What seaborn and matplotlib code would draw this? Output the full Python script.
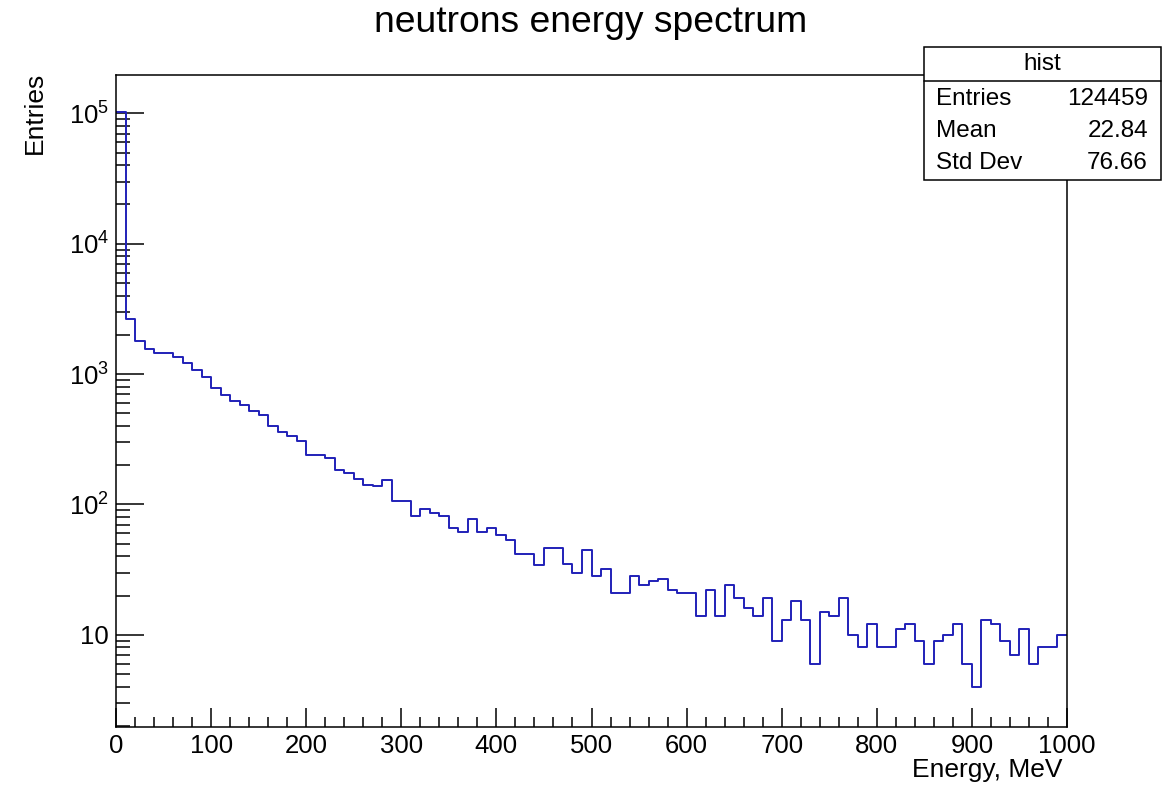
import numpy as np
import pandas as pd
import matplotlib
matplotlib.use("Agg")
import matplotlib.pyplot as plt
import seaborn as sns
from matplotlib.ticker import FixedLocator, FixedFormatter, MultipleLocator, LogLocator, NullFormatter
from matplotlib.patches import Rectangle

# histogram data: 100 bins of 10 MeV, counts
bin_edges = np.arange(0, 1001, 10)
counts = [
    102200, 2635, 1805, 1567, 1459, 1459, 1346, 1222, 1074, 950,
    775, 695, 625, 576, 523, 483, 400, 359, 335, 308,
    238, 238, 227, 184, 173, 157, 142, 138, 154, 106,
    106, 81, 92, 86, 81, 66, 61, 77, 61, 66,
    58, 53, 42, 42, 34, 46, 46, 35, 30, 45,
    28, 32, 21, 21, 28, 24, 26, 27, 22, 21,
    21, 14, 22, 14, 24, 19, 16, 14, 19, 9,
    13, 18, 13, 6, 15, 14, 19, 10, 8, 12,
    8, 8, 11, 12, 9, 6, 9, 10, 12, 6,
    4, 13, 12, 9, 7, 11, 6, 8, 8, 10,
]
bin_centers = bin_edges[:-1] + 5

x_ticks = [0, 100, 200, 300, 400, 500, 600, 700, 800, 900, 1000]
y_ticks = [10, 100, 1000, 10000, 100000]
y_tick_labels = ["10", "$10^{2}$", "$10^{3}$", "$10^{4}$", "$10^{5}$"]

stats_names = ["Entries", "Mean", "Std Dev"]
stats_values = ["124459", "22.84", "76.66"]

df = pd.DataFrame({"energy": bin_centers, "count": counts})

sns.set_style("ticks")
plt.rcParams["font.family"] = ["Liberation Sans", "DejaVu Sans"]
plt.rcParams["mathtext.fontset"] = "custom"
plt.rcParams["mathtext.rm"] = "Liberation Sans"
plt.rcParams["mathtext.it"] = "Liberation Sans"
for key in ["text.color", "axes.labelcolor", "xtick.color", "ytick.color", "axes.edgecolor"]:
    plt.rcParams[key] = "black"

W, H = 1163, 787
fig = plt.figure(figsize=(W / 100, H / 100), dpi=100)
ax = fig.add_axes([116 / W, 1 - 727 / H, (1067 - 116) / W, (727 - 75) / H])
ax.set_yscale("log")

sns.histplot(data=df, x="energy", weights="count", bins=list(bin_edges), element="step",
             fill=False, color="#2020b8", linewidth=1.4, ax=ax)

ax.set_xlim(0, 1000)
ax.set_ylim(1.96, 1.97e5)

for s in ax.spines.values():
    s.set_linewidth(1.1)
    s.set_color("black")

ax.xaxis.set_major_locator(FixedLocator(x_ticks))
ax.xaxis.set_major_formatter(FixedFormatter([str(t) for t in x_ticks]))
ax.xaxis.set_minor_locator(MultipleLocator(20))
ax.yaxis.set_major_locator(FixedLocator(y_ticks))
ax.yaxis.set_major_formatter(FixedFormatter(y_tick_labels))
ax.yaxis.set_minor_locator(LogLocator(base=10, subs=range(2, 10)))
ax.yaxis.set_minor_formatter(NullFormatter())

ax.tick_params(axis="x", which="major", direction="in", length=14, width=1.1, labelsize=18.5, pad=5)
ax.tick_params(axis="x", which="minor", direction="in", length=7, width=1.1)
ax.tick_params(axis="y", which="major", direction="in", length=20, width=1.1, labelsize=18.5, pad=5)
ax.tick_params(axis="y", which="minor", direction="in", length=10, width=1.1)

ax.set_xlabel("Energy, MeV", fontsize=19, loc="right")
ax.xaxis.set_label_coords((1062 - 116) / (1067 - 116), -(770 - 727) / (727 - 75))
ax.xaxis.label.set_va("center")
ax.set_ylabel("Entries", fontsize=19, loc="top")
ax.yaxis.set_label_coords(-(116 - 35) / (1067 - 116), 1.005)
ax.yaxis.label.set_va("center")

fig.text(591 / W, 1 - 22 / H, "neutrons energy spectrum", fontsize=26.8,
         ha="center", va="center")

# stats box
bx0, bx1, by0, by1, ysep = 924, 1161, 47, 180, 81
fig.patches.append(Rectangle((bx0 / W, 1 - by1 / H), (bx1 - bx0) / W, (by1 - by0) / H,
                             transform=fig.transFigure, facecolor="white",
                             edgecolor="black", linewidth=1.1, zorder=5))
fig.add_artist(plt.Line2D([bx0 / W, bx1 / W], [1 - ysep / H, 1 - ysep / H],
                          transform=fig.transFigure, color="black", linewidth=1.1, zorder=6))
fig.text((bx0 + bx1) / 2 / W, 1 - 64 / H, "hist", fontsize=17.5, ha="center", va="center", zorder=7)
for i, (name, val) in enumerate(zip(stats_names, stats_values)):
    yy = 1 - (99 + 32 * i) / H
    fig.text(936 / W, yy, name, fontsize=17.5, ha="left", va="center", zorder=7)
    fig.text(1148 / W, yy, val, fontsize=17.5, ha="right", va="center", zorder=7)

fig.savefig("out.png", dpi=100, facecolor="white")
